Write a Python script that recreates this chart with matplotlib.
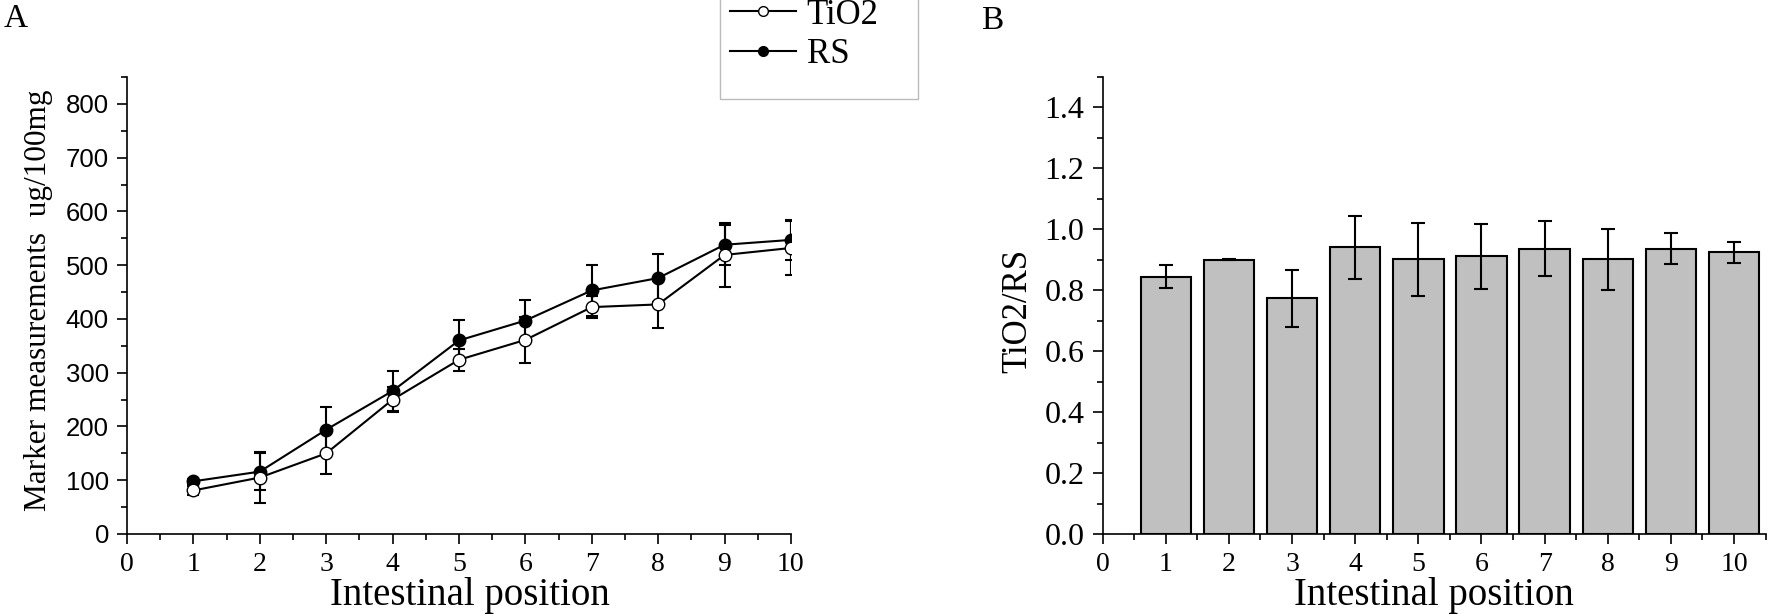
import matplotlib
matplotlib.use('Agg')
import matplotlib.pyplot as plt
from matplotlib.ticker import MultipleLocator
from matplotlib.lines import Line2D
from matplotlib.patches import Rectangle

# data
positions = [1, 2, 3, 4, 5, 6, 7, 8, 9, 10]
tio2 = [81, 105, 150, 250, 324, 361, 422, 427, 519, 532]
tio2_err = [8, 47, 39, 23, 21, 43, 20, 44, 59, 50]
rs = [98, 116, 194, 266, 360, 397, 453, 476, 538, 547]
rs_err = [5, 34, 43, 37, 38, 38, 47, 45, 37, 37]
ratio = [0.845, 0.900, 0.773, 0.941, 0.902, 0.911, 0.937, 0.901, 0.937, 0.924]
ratio_err = [0.037, 0.002, 0.092, 0.104, 0.120, 0.108, 0.090, 0.100, 0.050, 0.034]
xticks = list(range(0, 11))
ratio_ticks = [0.0, 0.2, 0.4, 0.6, 0.8, 1.0, 1.2, 1.4]

serif = 'Liberation Serif'
sans = 'Liberation Sans'

fig = plt.figure(figsize=(17.69, 6.14), dpi=100)
axA = fig.add_axes([0.0718, 0.1303, 0.3753, 0.7443])
axB = fig.add_axes([0.6233, 0.1303, 0.3748, 0.7443])

for ax in (axA, axB):
    ax.spines['top'].set_visible(False)
    ax.spines['right'].set_visible(False)
    ax.spines['left'].set_linewidth(1.2)
    ax.spines['bottom'].set_linewidth(1.2)
    ax.tick_params(which='major', direction='out', length=7, width=1.2, pad=6)
    ax.tick_params(which='minor', direction='out', length=4, width=1.2)
    ax.xaxis.set_major_locator(MultipleLocator(1))
    ax.xaxis.set_minor_locator(MultipleLocator(0.5))
    ax.set_xticks(xticks)
    ax.set_xticklabels([str(t) for t in xticks], family=serif, fontsize=20)

# panel A
axA.errorbar(positions, rs, yerr=rs_err, color='black', marker='o', ms=9,
             mfc='black', mec='black', lw=1.5, elinewidth=1.5, capsize=4, capthick=1.5)
axA.errorbar(positions, tio2, yerr=tio2_err, color='black', marker='o', ms=9,
             mfc='white', mec='black', lw=1.5, elinewidth=1.5, capsize=4, capthick=1.5)
axA.set_xlim(0, 10)
axA.set_ylim(0, 850)
axA.yaxis.set_major_locator(MultipleLocator(100))
axA.yaxis.set_minor_locator(MultipleLocator(50))
for lab in axA.get_yticklabels():
    lab.set_family(sans)
    lab.set_fontsize(18.5)
axA.set_xlabel('Intestinal position', family=serif, fontsize=28, labelpad=0)
axA.xaxis.set_label_coords(0.517, -0.095)
axA.set_ylabel('Marker measurements  ug/100mg', family=serif, fontsize=22.5)
axA.yaxis.set_label_coords(-0.111, 0.512)

handles = [
    Line2D([], [], color='black', lw=1.5, marker='o', ms=7, mfc='white', mec='black'),
    Line2D([], [], color='black', lw=1.5, marker='o', ms=7, mfc='black', mec='black'),
]
fig.legend(handles, ['TiO2', 'RS'], loc='upper left', bbox_to_anchor=(0.405, 1.025),
           frameon=False, prop={'family': serif, 'size': 25}, handlelength=1.9,
           handletextpad=0.3, labelspacing=0.2, borderaxespad=0)
fig.patches.append(Rectangle((720 / 1769, 1 - 99 / 614), (918 - 720) / 1769, 99 / 614 + 0.01,
                             transform=fig.transFigure, fill=False, edgecolor='#bbbbbb', lw=1))

fig.text(4 / 1769, 1 - 27 / 614, 'A', family=serif, fontsize=24)
fig.text(981 / 1769, 1 - 29 / 614, 'B', family=serif, fontsize=24)

# panel B
axB.bar(positions, ratio, width=0.8, color='#c0c0c0', edgecolor='black', linewidth=1.5)
axB.errorbar(positions, ratio, yerr=ratio_err, fmt='none', ecolor='black',
             elinewidth=1.5, capsize=5, capthick=1.5)
axB.set_xlim(0, 10.5)
axB.set_ylim(0, 1.5)
axB.yaxis.set_minor_locator(MultipleLocator(0.1))
axB.set_yticks(ratio_ticks)
axB.set_yticklabels(['%.1f' % v for v in ratio_ticks], family=serif, fontsize=23)
axB.set_xlabel('Intestinal position', family=serif, fontsize=28, labelpad=0)
axB.xaxis.set_label_coords(0.5, -0.095)
axB.set_ylabel('TiO2/RS', family=serif, fontsize=25)
axB.yaxis.set_label_coords(-0.103, 0.488)

fig.savefig('out.png', dpi=100)
